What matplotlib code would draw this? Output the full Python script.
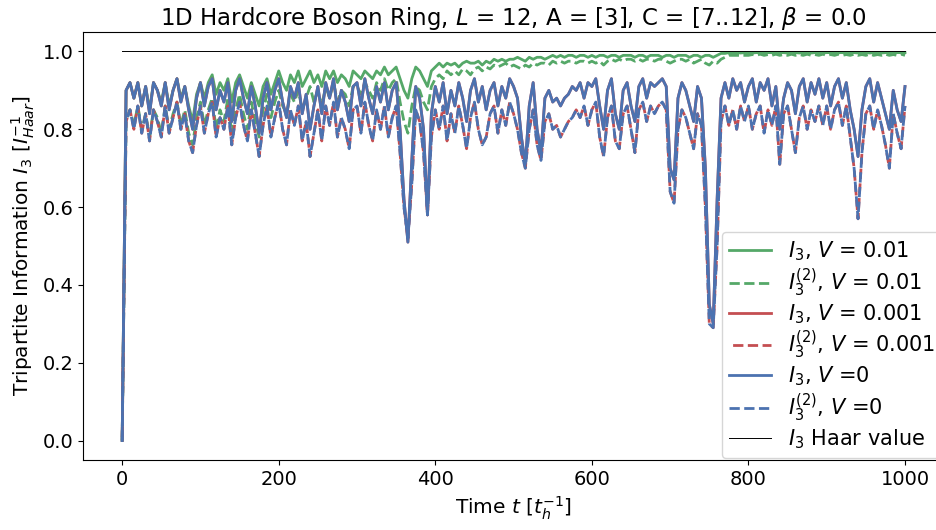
import numpy as np
import matplotlib.pyplot as plt

# sampled every 5 time units, t = 0 .. 1000
time = np.arange(0, 1005, 5)

i3_v0 = [
    0.00, 0.90, 0.92, 0.88, 0.92, 0.86, 0.91, 0.84, 0.92, 0.90, 0.86, 0.92, 0.85, 0.90, 0.93, 0.87, 0.91, 0.85, 0.80, 0.88,
    0.92, 0.86, 0.91, 0.93, 0.85, 0.90, 0.87, 0.92, 0.82, 0.90, 0.93, 0.88, 0.84, 0.91, 0.86, 0.79, 0.88, 0.92, 0.85, 0.90,
    0.93, 0.87, 0.83, 0.91, 0.88, 0.92, 0.84, 0.89, 0.80, 0.86, 0.91, 0.84, 0.92, 0.88, 0.93, 0.85, 0.90, 0.87, 0.82, 0.91,
    0.92, 0.86, 0.93, 0.88, 0.84, 0.91, 0.87, 0.92, 0.85, 0.90, 0.92, 0.80, 0.62, 0.51, 0.72, 0.91, 0.88, 0.80, 0.58, 0.84,
    0.91, 0.87, 0.92, 0.84, 0.90, 0.86, 0.92, 0.88, 0.82, 0.90, 0.93, 0.87, 0.91, 0.85, 0.90, 0.92, 0.86, 0.91, 0.88, 0.93,
    0.91, 0.88, 0.78, 0.71, 0.86, 0.92, 0.80, 0.74, 0.88, 0.90, 0.87, 0.88, 0.86, 0.88, 0.89, 0.91, 0.90, 0.92, 0.88, 0.92,
    0.91, 0.93, 0.86, 0.80, 0.90, 0.93, 0.84, 0.80, 0.90, 0.92, 0.86, 0.82, 0.91, 0.93, 0.88, 0.92, 0.91, 0.92, 0.93, 0.91,
    0.70, 0.67, 0.88, 0.92, 0.90, 0.86, 0.82, 0.91, 0.88, 0.70, 0.35, 0.30, 0.62, 0.88, 0.92, 0.88, 0.93, 0.90, 0.92, 0.87,
    0.91, 0.93, 0.87, 0.92, 0.90, 0.93, 0.86, 0.91, 0.80, 0.88, 0.92, 0.90, 0.84, 0.91, 0.93, 0.87, 0.92, 0.89, 0.93, 0.88,
    0.92, 0.86, 0.91, 0.93, 0.88, 0.92, 0.85, 0.80, 0.73, 0.85, 0.91, 0.93, 0.87, 0.92, 0.88, 0.84, 0.80, 0.90, 0.85, 0.82,
    0.91,
]

i3_2_v0 = [
    0.00, 0.82, 0.85, 0.80, 0.86, 0.79, 0.84, 0.77, 0.85, 0.82, 0.78, 0.86, 0.79, 0.83, 0.87, 0.80, 0.84, 0.77, 0.74, 0.81,
    0.86, 0.79, 0.84, 0.87, 0.78, 0.83, 0.80, 0.86, 0.76, 0.83, 0.87, 0.81, 0.77, 0.85, 0.79, 0.73, 0.81, 0.86, 0.78, 0.83,
    0.87, 0.80, 0.76, 0.85, 0.81, 0.86, 0.77, 0.82, 0.73, 0.79, 0.85, 0.77, 0.86, 0.81, 0.87, 0.78, 0.83, 0.80, 0.75, 0.85,
    0.86, 0.79, 0.87, 0.81, 0.77, 0.85, 0.80, 0.86, 0.78, 0.83, 0.86, 0.74, 0.60, 0.52, 0.66, 0.85, 0.82, 0.74, 0.58, 0.78,
    0.85, 0.80, 0.86, 0.77, 0.84, 0.79, 0.86, 0.81, 0.75, 0.83, 0.87, 0.80, 0.76, 0.78, 0.84, 0.86, 0.79, 0.85, 0.81, 0.87,
    0.84, 0.80, 0.74, 0.70, 0.80, 0.85, 0.76, 0.72, 0.82, 0.84, 0.80, 0.81, 0.78, 0.80, 0.82, 0.83, 0.85, 0.83, 0.86, 0.81,
    0.85, 0.87, 0.78, 0.73, 0.83, 0.86, 0.77, 0.75, 0.84, 0.86, 0.80, 0.74, 0.85, 0.87, 0.82, 0.86, 0.84, 0.86, 0.87, 0.85,
    0.64, 0.61, 0.80, 0.85, 0.83, 0.79, 0.75, 0.84, 0.81, 0.60, 0.30, 0.29, 0.50, 0.82, 0.86, 0.81, 0.85, 0.80, 0.86, 0.82,
    0.86, 0.80, 0.84, 0.86, 0.79, 0.85, 0.81, 0.86, 0.71, 0.84, 0.86, 0.80, 0.74, 0.83, 0.86, 0.80, 0.85, 0.82, 0.86, 0.81,
    0.86, 0.80, 0.85, 0.87, 0.81, 0.86, 0.78, 0.70, 0.57, 0.74, 0.84, 0.86, 0.80, 0.85, 0.81, 0.76, 0.70, 0.84, 0.79, 0.75,
    0.86,
]

# V = 0.001 is indistinguishable from V = 0 at this resolution
i3_v001 = i3_v0
i3_2_v001 = i3_2_v0

i3_v01 = [
    0.00, 0.90, 0.92, 0.88, 0.92, 0.86, 0.91, 0.85, 0.92, 0.90, 0.87, 0.92, 0.86, 0.90, 0.93, 0.88, 0.91, 0.86, 0.82, 0.89,
    0.92, 0.88, 0.92, 0.94, 0.89, 0.92, 0.90, 0.93, 0.87, 0.92, 0.94, 0.91, 0.88, 0.92, 0.89, 0.86, 0.91, 0.93, 0.89, 0.92,
    0.95, 0.92, 0.90, 0.94, 0.92, 0.95, 0.91, 0.93, 0.95, 0.92, 0.94, 0.91, 0.95, 0.93, 0.95, 0.92, 0.94, 0.93, 0.91, 0.95,
    0.94, 0.93, 0.95, 0.94, 0.93, 0.95, 0.94, 0.96, 0.94, 0.95, 0.96, 0.93, 0.90, 0.88, 0.93, 0.96, 0.95, 0.93, 0.91, 0.95,
    0.96, 0.97, 0.96, 0.97, 0.965, 0.97, 0.96, 0.97, 0.975, 0.97, 0.97, 0.975, 0.965, 0.975, 0.97, 0.98, 0.975, 0.98, 0.975, 0.98,
    0.98, 0.985, 0.98, 0.975, 0.985, 0.98, 0.985, 0.985, 0.98, 0.985, 0.99, 0.985, 0.99, 0.985, 0.99, 0.99, 0.985, 0.99, 0.99, 0.985,
    0.99, 0.985, 0.99, 0.99, 0.985, 0.99, 0.99, 0.985, 0.99, 0.99, 0.99, 0.985, 0.99, 0.99, 0.985, 0.99, 0.99, 0.99, 0.985, 0.99,
    0.99, 0.985, 0.99, 0.99, 0.99, 0.985, 0.99, 0.99, 0.985, 0.99, 0.99, 0.985, 0.99, 0.995, 0.995, 0.997, 0.996, 0.997, 0.996, 0.997,
    0.997, 0.996, 0.997, 0.997, 0.996, 0.997, 0.997, 0.996, 0.997, 0.997, 0.996, 0.997, 0.997, 0.996, 0.997, 0.997, 0.996, 0.997, 0.997, 0.996,
    0.997, 0.997, 0.996, 0.997, 0.997, 0.996, 0.997, 0.997, 0.996, 0.997, 0.997, 0.996, 0.997, 0.997, 0.996, 0.997, 0.997, 0.996, 0.997, 0.997,
    0.997,
]

i3_2_v01 = [
    0.00, 0.82, 0.85, 0.81, 0.86, 0.80, 0.84, 0.78, 0.85, 0.83, 0.79, 0.86, 0.80, 0.84, 0.87, 0.81, 0.85, 0.79, 0.76, 0.83,
    0.87, 0.81, 0.85, 0.88, 0.80, 0.85, 0.82, 0.88, 0.79, 0.85, 0.89, 0.84, 0.80, 0.87, 0.82, 0.78, 0.85, 0.89, 0.83, 0.87,
    0.90, 0.86, 0.84, 0.89, 0.87, 0.90, 0.85, 0.88, 0.91, 0.87, 0.90, 0.86, 0.91, 0.88, 0.92, 0.87, 0.90, 0.89, 0.86, 0.91,
    0.91, 0.89, 0.92, 0.90, 0.88, 0.92, 0.90, 0.93, 0.90, 0.92, 0.93, 0.87, 0.82, 0.79, 0.86, 0.91, 0.90, 0.87, 0.85, 0.91,
    0.93, 0.94, 0.93, 0.95, 0.94, 0.95, 0.94, 0.955, 0.95, 0.94, 0.955, 0.96, 0.95, 0.96, 0.955, 0.965, 0.96, 0.965, 0.97, 0.96,
    0.965, 0.96, 0.955, 0.965, 0.96, 0.97, 0.965, 0.97, 0.97, 0.965, 0.975, 0.97, 0.975, 0.97, 0.975, 0.975, 0.97, 0.975, 0.975, 0.97,
    0.975, 0.97, 0.975, 0.965, 0.975, 0.98, 0.975, 0.98, 0.975, 0.98, 0.98, 0.975, 0.98, 0.975, 0.98, 0.98, 0.975, 0.98, 0.98, 0.975,
    0.97, 0.975, 0.98, 0.98, 0.975, 0.98, 0.97, 0.975, 0.98, 0.97, 0.965, 0.975, 0.97, 0.98, 0.985, 0.99, 0.99, 0.99, 0.99, 0.99,
    0.99, 0.992, 0.99, 0.993, 0.99, 0.992, 0.99, 0.993, 0.99, 0.992, 0.99, 0.993, 0.99, 0.992, 0.99, 0.993, 0.99, 0.992, 0.99, 0.993,
    0.99, 0.992, 0.99, 0.993, 0.99, 0.992, 0.99, 0.993, 0.99, 0.992, 0.99, 0.993, 0.99, 0.992, 0.99, 0.993, 0.99, 0.992, 0.99, 0.993,
    0.99,
]

haar_value = 1.0

blue, green, red = "#4C72B0", "#55A868", "#C44E52"

fig = plt.figure(figsize=(9.36, 5.3), dpi=100)
ax = fig.add_axes([0.0887, 0.132, 0.92, 0.8076])

ax.plot(time, i3_v01, color=green, lw=2, label=r"$I_3$, $V$ = 0.01")
ax.plot(time, i3_2_v01, color=green, lw=2, ls="--", label=r"$I_3^{(2)}$, $V$ = 0.01")
ax.plot(time, i3_v001, color=red, lw=2, label=r"$I_3$, $V$ = 0.001")
ax.plot(time, i3_2_v001, color=red, lw=2, ls=(4, (3.7, 1.6)), label=r"$I_3^{(2)}$, $V$ = 0.001")
ax.plot(time, i3_v0, color=blue, lw=2, label=r"$I_3$, $V$ =0")
ax.plot(time, i3_2_v0, color=blue, lw=2, ls="--", label=r"$I_3^{(2)}$, $V$ =0")
ax.plot([time[0], time[-1]], [haar_value, haar_value], color="k", lw=0.7, label=r"$I_3$ Haar value")

ax.set_xlim(-50, 1050)
ax.set_ylim(-0.05, 1.05)
ax.tick_params(labelsize=14)
ax.set_xlabel(r"Time $t$ $[t_h^{-1}]$", fontsize=14.5)
ax.set_ylabel(r"Tripartite Information $I_3$ $[I_{Haar}^{-1}]$", fontsize=14.5)
ax.set_title(r"1D Hardcore Boson Ring, $L$ = 12, A = [3], C = [7..12], $\beta$ = 0.0", fontsize=16.5, pad=5)
ax.legend(loc="lower right", fontsize=15, labelspacing=0.15, handlelength=2.0,
          borderaxespad=0.1, borderpad=0.35)

fig.savefig("out.png", dpi=100)
